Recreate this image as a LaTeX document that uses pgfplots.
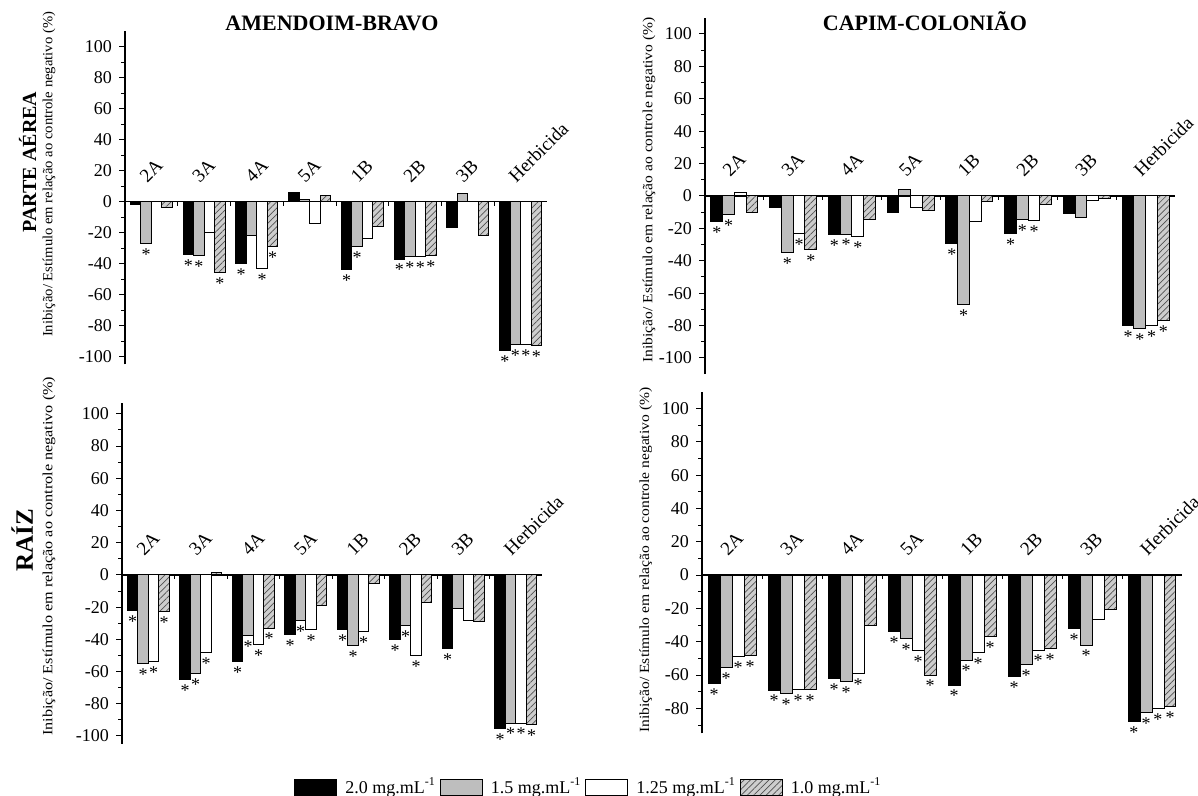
\documentclass[border=0pt]{standalone}
\usepackage{fontspec}
\setmainfont{Liberation Serif}
\usepackage{graphicx}
\usepackage{pgfplots}
\pgfplotsset{compat=1.18}
\usetikzlibrary{patterns.meta}
\definecolor{barGray}{RGB}{190,190,190}
\definecolor{hatchBg}{RGB}{205,205,205}
\definecolor{hatchLn}{RGB}{80,80,80}
\newcommand{\ylab}[1]{\resizebox{#1}{\height}{Inibição/ Estímulo em relação ao controle negativo (\%)}}
\pgfplotsset{
  panel/.style={
    scale only axis, anchor=south west,
    axis x line*=middle, axis y line*=left,
    xmin=-0.5, xmax=7.5,
    ybar=0pt, bar width=0.2,
    xtick={0,...,7}, xticklabels={2A,3A,4A,5A,1B,2B,3B,Herbicida},
    major x tick style=transparent,
    minor x tick num=1,
    ytick={-100,-80,...,100}, minor y tick num=1,
    tick align=outside,
    major tick length=3pt, minor tick length=2pt,
    tick style={black, line width=0.5pt},
    hide obscured x ticks=false, hide obscured y ticks=false,
    xticklabel style={font=\fontsize{9.5}{10}\selectfont, inner sep=1pt, xshift=-2pt, yshift=10.5pt, rotate=45, anchor=south west},
    yticklabel style={font=\fontsize{9}{10}\selectfont},
    /pgf/number format/assume math mode=true,
    point meta=explicit symbolic,
    nodes near coords={\if s\pgfplotspointmeta *\fi},
    nodes near coords align={anchor=north},
    every node near coord/.append style={font=\fontsize{9}{9}\selectfont, inner sep=2.3pt, black, anchor=north},
    axis line style={line width=0.6pt},
    ylabel style={font=\fontsize{7}{8}\selectfont, anchor=center},
    clip=false,
    legend image code/.code={\draw[#1, line width=0.5pt] (0pt,-4pt) rectangle (21pt,4pt);},
  },
  sBlack/.style={fill=black, draw=black, line width=0.5pt},
  sGray/.style={fill=barGray, draw=black, line width=0.5pt},
  sWhite/.style={fill=white, draw=black, line width=0.5pt},
  sHatch/.style={fill=hatchBg, draw=black, line width=0.5pt,
     postaction={pattern={Lines[angle=45,distance=2.2pt,line width=0.35pt]}, pattern color=hatchLn}},
}
\begin{document}
\begin{tikzpicture}
\useasboundingbox (0pt,0pt) rectangle (599pt,398pt);

% ---------- Panel 1: Amendoim-bravo, parte aerea
\begin{axis}[panel, at={(62.5pt,215.75pt)}, width=211pt, height=166.75pt,
  ymin=-105, ymax=110,
  ylabel={\ylab{162.5pt}}, ylabel style={at={(axis description cs:-0.180,0.570)}}]
\addplot[sBlack] coordinates {(0,-2)[n] (1,-34)[s] (2,-40)[s] (3,6)[n] (4,-44)[s] (5,-37)[s] (6,-17)[n] (7,-96)[s]};
\addplot[sGray] coordinates {(0,-27)[s] (1,-35)[s] (2,-22)[n] (3,1.5)[n] (4,-29)[s] (5,-35.5)[s] (6,5)[n] (7,-92)[s]};
\addplot[sWhite] coordinates {(0,0)[n] (1,-20)[n] (2,-43)[s] (3,-14)[n] (4,-24)[n] (5,-35.5)[s] (6,0)[n] (7,-92)[s]};
\addplot[sHatch] coordinates {(0,-4)[n] (1,-46)[s] (2,-29)[s] (3,4)[n] (4,-16)[n] (5,-35)[s] (6,-22)[n] (7,-93)[s]};
\end{axis}

% ---------- Panel 2: Capim-coloniao, parte aerea
\begin{axis}[panel, at={(352.5pt,210.9pt)}, width=235pt, height=178.2pt,
  ymin=-110, ymax=110,
  ylabel={\ylab{172.5pt}}, ylabel style={at={(axis description cs:-0.119,0.517)}}]
\addplot[sBlack] coordinates {(0,-16)[s] (1,-7)[n] (2,-24)[s] (3,-10)[n] (4,-29.5)[s] (5,-23)[s] (6,-11)[n] (7,-80)[s]};
\addplot[sGray] coordinates {(0,-11.5)[s] (1,-35)[s] (2,-23.5)[s] (3,4)[n] (4,-67)[s] (5,-14.5)[s] (6,-13.5)[n] (7,-82)[s]};
\addplot[sWhite] coordinates {(0,2)[n] (1,-23)[s] (2,-25)[s] (3,-7)[n] (4,-16)[n] (5,-15)[s] (6,-3)[n] (7,-80)[s]};
\addplot[sHatch] coordinates {(0,-10)[n] (1,-33)[s] (2,-14.5)[n] (3,-9)[n] (4,-3.5)[n] (5,-5)[n] (6,-1.5)[n] (7,-77)[s]};
\end{axis}

% ---------- Panel 3: Amendoim-bravo, raiz
\begin{axis}[panel, at={(61pt,26pt)}, width=210pt, height=170.7pt,
  ymin=-105, ymax=107,
  ylabel={\ylab{179.5pt}}, ylabel style={at={(axis description cs:-0.174,0.550)}},
  legend columns=-1,
  legend style={at={(axis description cs:1.114,-0.126)}, anchor=center, draw=none, fill=none,
    font=\fontsize{9}{10}\selectfont, inner sep=0pt,
    /tikz/every even column/.append style={column sep=0pt},
    /tikz/every odd column/.append style={column sep=2pt},
    nodes={inner xsep=2pt, inner ysep=1pt}}]
\addplot[sBlack] coordinates {(0,-22)[s] (1,-65)[s] (2,-54)[s] (3,-37)[s] (4,-34)[s] (5,-40)[s] (6,-46)[s] (7,-95.5)[s]};
\addplot[sGray] coordinates {(0,-55)[s] (1,-61.5)[s] (2,-37.5)[s] (3,-28.5)[s] (4,-44)[s] (5,-31.5)[s] (6,-21)[n] (7,-92)[s]};
\addplot[sWhite] coordinates {(0,-54)[s] (1,-48)[s] (2,-43)[s] (3,-34)[s] (4,-35)[s] (5,-50)[s] (6,-28.5)[n] (7,-92)[s]};
\addplot[sHatch] coordinates {(0,-23)[s] (1,1.5)[n] (2,-33)[s] (3,-19)[n] (4,-5.5)[n] (5,-17)[n] (6,-29)[n] (7,-93)[s]};
\legend{2.0 mg.mL\textsuperscript{-1}, 1.5 mg.mL\textsuperscript{-1}, 1.25 mg.mL\textsuperscript{-1}, 1.0 mg.mL\textsuperscript{-1}}
\end{axis}

% ---------- Panel 4: Capim-coloniao, raiz
\begin{axis}[panel, at={(351pt,31.3pt)}, width=240pt, height=170.8pt,
  ymin=-95, ymax=110,
  ylabel={\ylab{172.5pt}}, ylabel style={at={(axis description cs:-0.117,0.507)}}]
\addplot[sBlack] coordinates {(0,-65)[s] (1,-69)[s] (2,-62)[s] (3,-34)[s] (4,-66)[s] (5,-61)[s] (6,-32)[s] (7,-88)[s]};
\addplot[sGray] coordinates {(0,-55.5)[s] (1,-71)[s] (2,-64)[s] (3,-38)[s] (4,-51)[s] (5,-53.5)[s] (6,-42)[s] (7,-82.5)[s]};
\addplot[sWhite] coordinates {(0,-49)[s] (1,-68.5)[s] (2,-59)[s] (3,-45.5)[s] (4,-46.5)[s] (5,-45)[s] (6,-26.5)[n] (7,-80)[s]};
\addplot[sHatch] coordinates {(0,-48.5)[s] (1,-68.5)[s] (2,-30)[n] (3,-60)[s] (4,-37)[s] (5,-44)[s] (6,-20.5)[n] (7,-79)[s]};
\end{axis}

% ---------- Titles and row labels
\node[anchor=base, font=\bfseries\fontsize{11}{12}\selectfont] at (166pt,382.5pt) {AMENDOIM-BRAVO};
\node[anchor=base, font=\bfseries\fontsize{11}{12}\selectfont] at (462.5pt,382.5pt) {CAPIM-COLONIÃO};
\node[rotate=90, anchor=base, font=\bfseries\fontsize{10}{11}\selectfont] at (18pt,317pt) {PARTE AÉREA};
\node[rotate=90, anchor=base, font=\bfseries\fontsize{12.5}{13}\selectfont] at (16.5pt,128pt) {RAÍZ};
\end{tikzpicture}
\end{document}
